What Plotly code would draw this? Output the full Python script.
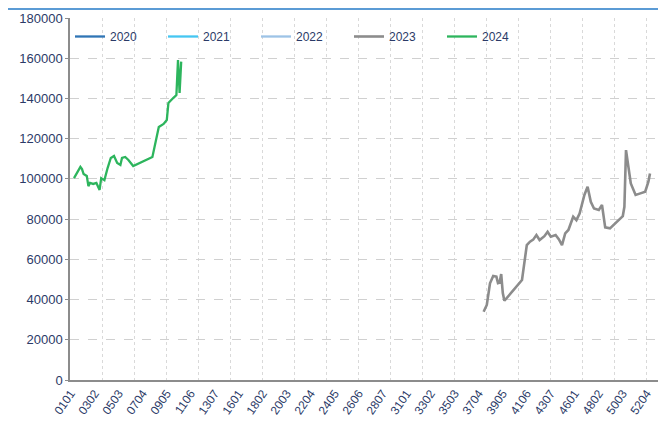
import plotly.graph_objects as go

# ---- data ----
tick_labels = ["0101", "0302", "0503", "0704", "0905", "1106", "1307", "1601", "1802",
               "2003", "2204", "2405", "2606", "2807", "3101", "3302", "3503", "3704",
               "3905", "4106", "4307", "4601", "4802", "5003", "5204"]

series_names = ["2020", "2021", "2022", "2023", "2024"]

dates_2020 = []
values_2020 = []
dates_2021 = []
values_2021 = []
dates_2022 = []
values_2022 = []

dates_2023 = ["3707", "3802", "3804", "3806", "3901", "3902", "3903", "3904", "3905", "3906",
              "4103", "4105", "4106", "4201", "4203", "4205", "4207", "4303", "4305", "4307",
              "4403", "4405", "4407", "4502", "4504", "4507", "4602", "4604", "4607", "4702",
              "4704", "4706", "4802", "4804", "4806", "4902", "4906", "5003", "5004", "5005",
              "5101", "5104", "5107", "5203", "5205", "5206"]
values_2023 = [33900, 37300, 48100, 51700, 51400, 48200, 48400, 52700, 43200, 39400,
               49700, 61300, 67100, 68800, 69800, 72100, 69600, 71500, 73700, 71300,
               72100, 70000, 67100, 72900, 74600, 81200, 79500, 82800, 92000, 96100,
               88600, 85300, 84500, 87000, 75900, 75400, 78700, 81500, 86100, 114300,
               97700, 92000, 92800, 93600, 98600, 102700]

dates_2024 = ["0103", "0105", "0107", "0201", "0202", "0204", "0205", "0206", "0301", "0303",
              "0305", "0306", "0401", "0403", "0405", "0407", "0502", "0504", "0505", "0507",
              "0602", "0605", "0803", "0807", "0903", "0905", "0906", "1002", "1004", "1005",
              "1006", "1007"]
values_2024 = [100400, 103400, 106000, 104900, 102400, 101400, 96400, 98000, 97500, 98000,
               94500, 100400, 99400, 105400, 110400, 111400, 107900, 106900, 110400, 110900,
               109400, 106400, 110900, 125800, 127300, 129300, 137700, 140200, 141700, 159100,
               142700, 158300]

colors = {"2020": "#2f75b5", "2021": "#45c6f2", "2022": "#9dc3e6",
          "2023": "#8c8c8c", "2024": "#2db55d"}


def day_index(code):
    # "WWDD" -> position on the week/day category axis
    return (int(code[:2]) - 1) * 7 + int(code[2:]) - 1


data = {
    "2020": (dates_2020, values_2020),
    "2021": (dates_2021, values_2021),
    "2022": (dates_2022, values_2022),
    "2023": (dates_2023, values_2023),
    "2024": (dates_2024, values_2024),
}

fig = go.Figure()
for name in series_names:
    d, v = data[name]
    xs = [day_index(c) for c in d] if d else [None]
    ys = v if v else [None]
    fig.add_trace(go.Scatter(
        x=xs, y=ys, mode="lines", name=name,
        line=dict(color=colors[name], width=2.6 if name == "2023" else 2.3),
        text=d, hovertemplate="%{text}: %{y}<extra>" + name + "</extra>",
        connectgaps=True,
    ))

txt_color = "#2b3a67"
font_family = "Liberation Sans, Arial, sans-serif"

PW = 596  # plot width in px
PH = 362  # plot height in px

fig.update_layout(
    width=658, height=413,
    margin=dict(l=62, r=0, t=10, b=41, autoexpand=False),
    paper_bgcolor="white", plot_bgcolor="white",
    font=dict(family=font_family, size=12, color=txt_color),
    showlegend=True,
    legend=dict(orientation="h", x=0, y=1 - 4 / PH, xanchor="left", yanchor="top",
                entrywidth=48, entrywidthmode="pixels",
                font=dict(size=12, color=txt_color), bgcolor="rgba(0,0,0,0)",
                itemwidth=30),
    xaxis=dict(
        range=[-0.5, 372],
        tickmode="array",
        tickvals=[day_index(t) for t in tick_labels],
        ticktext=tick_labels,
        tickangle=-55,
        showgrid=False,
        ticks="",
        showline=True, linecolor="#8c8c8c", linewidth=1.5,
        zeroline=False, automargin=False,
        tickfont=dict(size=12, color=txt_color),
        minor=dict(tick0=-0.5, dtick=20, showgrid=True, gridcolor="#d9d9d9",
                   griddash="dot", gridwidth=1),
    ),
    yaxis=dict(
        range=[0, 180000],
        dtick=20000,
        tickformat="d",
        showgrid=True, gridcolor="#d0d0d0", griddash="dash", gridwidth=1,
        showline=True, linecolor="#8c8c8c", linewidth=1.5,
        ticks="outside", ticklen=3, tickcolor="#8c8c8c",
        zeroline=False, automargin=False,
        tickfont=dict(size=13, color=txt_color),
    ),
    shapes=[dict(type="line", xref="paper", yref="paper",
                 x0=-62 / PW, x1=1, y0=1 + 9 / PH, y1=1 + 9 / PH,
                 line=dict(color="#5b9bd5", width=2))],
)

fig.write_html("out.html")
